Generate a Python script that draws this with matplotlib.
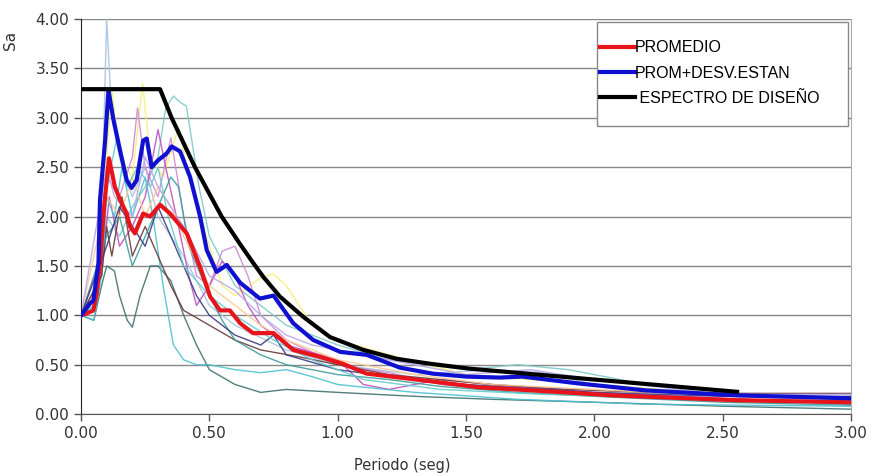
import numpy as np
import matplotlib.pyplot as plt
from matplotlib.patches import Rectangle

# periodos y aceleraciones
t_prom = [0.0, 0.022, 0.048, 0.061, 0.074, 0.09, 0.109, 0.132, 0.152, 0.178, 0.191, 0.21, 0.242,
          0.269, 0.308, 0.347, 0.412, 0.464, 0.503, 0.542, 0.58, 0.62, 0.67, 0.75, 0.827, 0.93,
          1.02, 1.113, 1.37, 1.554, 1.632, 2.07, 2.556, 3.0]
sa_prom = [1.0, 1.02, 1.05, 1.22, 1.53, 2.1, 2.59, 2.30, 2.17, 2.03, 1.90, 1.83, 2.03,
           2.0, 2.12, 2.03, 1.83, 1.49, 1.19, 1.05, 1.05, 0.92, 0.82, 0.82, 0.65, 0.58,
           0.51, 0.41, 0.33, 0.27, 0.26, 0.19, 0.14, 0.12]

t_desv = [0.0, 0.035, 0.048, 0.068, 0.074, 0.094, 0.107, 0.125, 0.152, 0.178, 0.197, 0.217,
          0.242, 0.256, 0.275, 0.30, 0.334, 0.353, 0.386, 0.425, 0.464, 0.49, 0.528, 0.568,
          0.62, 0.697, 0.75, 0.827, 0.905, 1.01, 1.113, 1.243, 1.37, 1.50, 1.632, 1.72, 1.94,
          2.2, 2.556, 3.0]
sa_desv = [1.0, 1.12, 1.15, 1.53, 2.17, 2.77, 3.28, 3.0, 2.67, 2.37, 2.29, 2.37,
           2.77, 2.79, 2.50, 2.57, 2.64, 2.71, 2.66, 2.40, 2.0, 1.66, 1.44, 1.51,
           1.33, 1.17, 1.2, 0.92, 0.75, 0.63, 0.60, 0.47, 0.41, 0.38, 0.37, 0.38, 0.31,
           0.24, 0.19, 0.16]

t_dis = [0.0, 0.308, 0.353, 0.444, 0.548, 0.62, 0.671, 0.71, 0.775, 0.866, 0.97, 1.10, 1.23,
         1.36, 1.515, 2.0, 2.556]
sa_dis = [3.29, 3.29, 3.0, 2.5, 2.0, 1.72, 1.53, 1.39, 1.19, 0.985, 0.78, 0.65, 0.56,
          0.51, 0.46, 0.35, 0.226]

# registros individuales (periodo, Sa, color)
registros = [
    ([0, 0.05, 0.08, 0.1, 0.12, 0.15, 0.2, 0.25, 0.3, 0.4, 0.5, 0.6, 0.8, 1.0, 1.3, 1.6, 1.8, 2.0, 2.5, 3.0],
     [1.0, 1.1, 2.0, 4.0, 3.0, 2.6, 2.2, 2.5, 2.0, 1.6, 1.1, 0.9, 0.65, 0.5, 0.4, 0.45, 0.42, 0.3, 0.2, 0.17],
     '#a8c4e0'),
    ([0, 0.05, 0.1, 0.15, 0.2, 0.25, 0.3, 0.33, 0.36, 0.39, 0.41, 0.43, 0.46, 0.5, 0.6, 0.7, 0.8, 1.0, 1.2,
      1.5, 1.7, 1.9, 2.2, 2.6, 3.0],
     [1.0, 1.05, 2.0, 1.8, 2.1, 2.3, 2.6, 3.1, 3.22, 3.15, 3.12, 2.8, 2.3, 1.8, 1.3, 1.1, 0.9, 0.7, 0.55,
      0.45, 0.5, 0.45, 0.3, 0.2, 0.15],
     '#7fc9c9'),
    ([0, 0.06, 0.1, 0.12, 0.15, 0.2, 0.24, 0.27, 0.32, 0.38, 0.42, 0.5, 0.55, 0.6, 0.7, 0.75, 0.8, 0.9, 1.0,
      1.2, 1.5, 2.0, 2.5, 3.0],
     [1.0, 1.3, 2.6, 3.3, 2.6, 2.4, 3.35, 2.6, 2.4, 2.9, 2.4, 1.7, 1.3, 1.2, 1.38, 1.42, 1.3, 0.9, 0.75,
      0.6, 0.4, 0.3, 0.2, 0.14],
     '#f5f07a'),
    ([0, 0.08, 0.1, 0.15, 0.2, 0.22, 0.25, 0.3, 0.35, 0.4, 0.45, 0.5, 0.55, 0.6, 0.65, 0.7, 0.8, 1.0, 1.2,
      1.4, 1.6, 2.0, 3.0],
     [1.0, 1.6, 2.4, 2.2, 2.6, 3.1, 2.5, 2.2, 2.8, 2.0, 1.4, 1.3, 1.65, 1.7, 1.4, 1.0, 0.75, 0.5, 0.42,
      0.3, 0.25, 0.2, 0.12],
     '#d08ad8'),
    ([0, 0.08, 0.11, 0.15, 0.2, 0.25, 0.3, 0.33, 0.38, 0.42, 0.45, 0.5, 0.55, 0.6, 0.65, 0.7, 0.8, 1.0,
      1.1, 1.2, 1.4, 1.6, 2.0, 3.0],
     [1.0, 1.4, 2.2, 1.7, 1.9, 2.2, 2.88, 2.5, 1.9, 1.4, 1.1, 1.3, 1.55, 1.4, 1.1, 0.9, 0.7, 0.55,
      0.3, 0.25, 0.35, 0.3, 0.22, 0.1],
     '#c050c0'),
    ([0, 0.05, 0.08, 0.1, 0.13, 0.15, 0.18, 0.2, 0.23, 0.27, 0.3, 0.35, 0.4, 0.45, 0.5, 0.6, 0.7, 0.8,
      1.0, 1.3, 1.6, 2.0, 2.5, 3.0],
     [1.0, 0.95, 1.3, 1.5, 1.45, 1.2, 0.95, 0.88, 1.2, 1.5, 1.5, 1.35, 1.0, 0.7, 0.45, 0.3, 0.22, 0.25,
      0.22, 0.18, 0.15, 0.12, 0.08, 0.05],
     '#3f7070'),
    ([0, 0.05, 0.08, 0.1, 0.13, 0.16, 0.2, 0.25, 0.28, 0.32, 0.36, 0.4, 0.45, 0.5, 0.6, 0.7, 0.8, 0.9,
      1.0, 1.3, 1.7, 2.2, 3.0],
     [1.0, 0.95, 1.4, 2.2, 2.0, 2.5, 2.0, 2.4, 2.0, 1.3, 0.7, 0.55, 0.5, 0.5, 0.45, 0.42, 0.45, 0.38,
      0.3, 0.22, 0.15, 0.1, 0.08],
     '#4cc0d0'),
    ([0, 0.08, 0.1, 0.12, 0.16, 0.2, 0.25, 0.3, 0.35, 0.4, 0.5, 0.6, 0.7, 0.85, 1.0, 1.2, 1.4, 1.6, 1.9,
      2.2, 2.6, 3.0],
     [1.0, 1.4, 1.9, 1.6, 2.2, 1.6, 1.9, 1.6, 1.3, 1.05, 0.9, 0.75, 0.65, 0.58, 0.5, 0.4, 0.35, 0.3, 0.25,
      0.22, 0.21, 0.21],
     '#6b3a3a'),
    ([0, 0.1, 0.15, 0.2, 0.25, 0.3, 0.35, 0.38, 0.42, 0.5, 0.55, 0.6, 0.7, 0.8, 1.0, 1.2, 1.4, 1.7, 2.0,
      2.5, 3.0],
     [1.0, 1.8, 2.0, 1.5, 1.8, 2.1, 2.4, 2.3, 1.7, 1.2, 0.95, 0.75, 0.6, 0.5, 0.4, 0.35, 0.28, 0.22, 0.18,
      0.12, 0.09],
     '#3c9c9c'),
    ([0, 0.1, 0.15, 0.2, 0.25, 0.3, 0.35, 0.4, 0.5, 0.6, 0.7, 0.8, 1.0, 1.3, 1.6, 2.0, 2.5, 3.0],
     [1.0, 2.2, 2.0, 2.4, 2.0, 2.3, 2.1, 1.8, 1.3, 1.1, 0.9, 0.75, 0.55, 0.4, 0.3, 0.25, 0.18, 0.13],
     '#ffc890'),
    ([0, 0.1, 0.13, 0.2, 0.25, 0.3, 0.4, 0.5, 0.6, 0.7, 0.8, 0.9, 1.0, 1.2, 1.5, 1.75, 2.0, 2.5, 3.0],
     [1.0, 2.5, 2.2, 2.0, 2.6, 2.3, 1.9, 1.4, 1.25, 1.0, 0.8, 0.7, 0.65, 0.55, 0.4, 0.45, 0.35, 0.2, 0.2],
     '#b8a8e8'),
    ([0, 0.1, 0.15, 0.2, 0.25, 0.3, 0.35, 0.4, 0.45, 0.5, 0.6, 0.7, 0.75, 0.8, 1.0, 1.2, 1.5, 2.0, 2.5,
      3.0],
     [1.0, 1.7, 2.1, 1.9, 1.7, 2.1, 1.8, 1.5, 1.2, 1.0, 0.8, 0.7, 0.8, 0.6, 0.45, 0.38, 0.3, 0.22, 0.18,
      0.18],
     '#3a3a80'),
    ([0, 0.05, 0.1, 0.14, 0.18, 0.22, 0.27, 0.3, 0.34, 0.4, 0.5, 0.6, 0.75, 0.9, 1.1, 1.4, 1.8, 2.5, 3.0],
     [1.0, 1.1, 2.3, 2.8, 2.3, 2.5, 2.3, 2.5, 2.0, 1.5, 1.2, 1.0, 0.75, 0.55, 0.35, 0.25, 0.2, 0.15, 0.12],
     '#66cccc'),
]

fig = plt.figure(figsize=(8.73, 4.76), dpi=100)
ax = fig.add_axes([0.0928, 0.130, 0.882, 0.830])

for t, sa, c in registros:
    ax.plot(t, sa, color=c, lw=1.0, alpha=0.9)

ax.plot(t_prom, sa_prom, color='#e8141c', lw=3, label='PROMEDIO', zorder=5)
ax.plot(t_desv, sa_desv, color='#1010d0', lw=3, label='PROM+DESV.ESTAN', zorder=5)
ax.plot(t_dis, sa_dis, color='black', lw=3, label=' ESPECTRO DE DISEÑO', zorder=6)

ax.set_xlim(0, 3)
ax.set_ylim(0, 4)
ax.set_xticks(np.arange(0, 3.01, 0.5))
ax.set_yticks(np.arange(0, 4.01, 0.5))
ax.set_xticklabels(['%.2f' % v for v in np.arange(0, 3.01, 0.5)])
ax.set_yticklabels(['%.2f' % v for v in np.arange(0, 4.01, 0.5)])
ax.tick_params(labelsize=11, labelcolor='#333333', length=5, width=1, color='#555555')
ax.yaxis.grid(True, color='#888888', lw=1)
ax.set_axisbelow(True)
ax.spines['top'].set_visible(False)
ax.spines['right'].set_color('#aaaaaa')
ax.spines['left'].set_color('#222222')
ax.spines['bottom'].set_color('#555555')

ax.set_xlabel('Periodo (seg)', fontsize=10.5, color='#333333')
ax.xaxis.set_label_coords(0.417, -0.11)
ax.set_ylabel('Sa', fontsize=11, color='#333333')
ax.yaxis.set_label_coords(-0.082, 0.945)

# caja de la leyenda
caja = Rectangle((0.6701, 0.729), 0.326, 0.263, transform=ax.transAxes, facecolor='white',
                 edgecolor='#888888', lw=1, zorder=9)
ax.add_patch(caja)
leg = ax.legend(loc='upper left', bbox_to_anchor=(0.674, 0.946),
                prop={'family': 'Liberation Sans', 'size': 11.5}, handlelength=2.2, handletextpad=0.0,
                labelspacing=0.64, borderpad=0, borderaxespad=0, frameon=False)
leg.set_zorder(10)

fig.savefig('out.png', dpi=100)
